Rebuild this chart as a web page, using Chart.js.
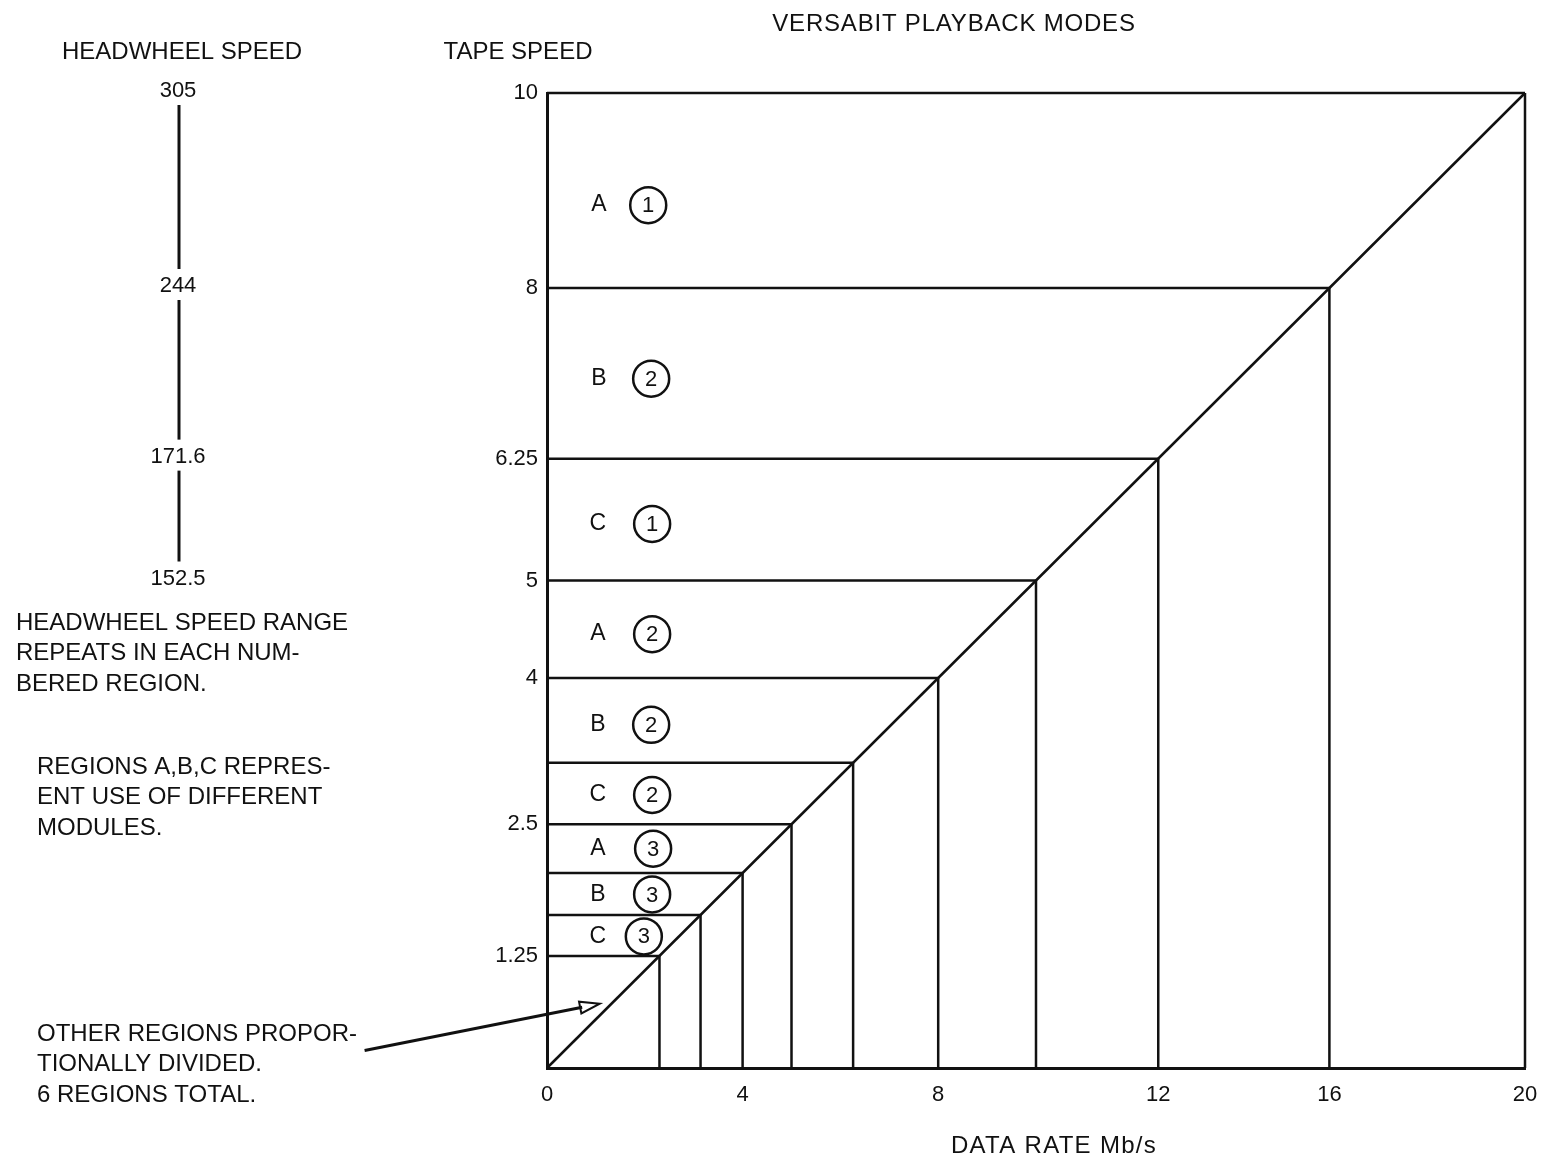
<!DOCTYPE html>
<html lang="en">
<head>
<meta charset="UTF-8">
<title>Versabit Playback Modes</title>
<script src="https://cdn.jsdelivr.net/npm/chart.js"></script>
<style>
  html, body { margin: 0; padding: 0; background: #fff; }
  #chart { display: block; }
</style>
</head>
<body>
<canvas id="chart" width="1543" height="1162"></canvas>
<script>
// tape speed at each region boundary, top to bottom
const tapeSpeedLines  = [10, 8, 6.25, 5, 4, 3.13, 2.5, 2, 1.57, 1.15];
const tapeSpeedLabels = ['10', '8', '6.25', '5', '4', '', '2.5', '', '', '1.25'];

// diagonal: data rate vs tape speed
const diagonalX = [0, 20];
const diagonalY = [0, 10];

const dataRateTicks  = [0, 4, 8, 12.5, 16, 20];
const dataRateLabels = ['0', '4', '8', '12', '16', '20'];

// headwheel speed scale, lined up with tape speed
const headwheelAt     = [10, 8, 6.25, 5];
const headwheelLabels = ['305', '244', '171.6', '152.5'];

// region labels
const regionLetters = ['A', 'B', 'C', 'A', 'B', 'C', 'A', 'B', 'C'];
const regionNumbers = ['1', '2', '1', '2', '2', '2', '3', '3', '3'];
const regionY       = [8.85, 7.07, 5.58, 4.45, 3.52, 2.80, 2.25, 1.78, 1.35];
const letterX       = [1.06, 1.06, 1.04, 1.04, 1.04, 1.04, 1.04, 1.04, 1.04];
const circleX       = [2.07, 2.13, 2.15, 2.15, 2.13, 2.15, 2.17, 2.15, 1.98];

const notes = [
  { x: 16, y: 623, lines: ['HEADWHEEL SPEED RANGE', 'REPEATS IN EACH NUM-', 'BERED REGION.'] },
  { x: 37, y: 767, lines: ['REGIONS A,B,C REPRES-', 'ENT USE OF DIFFERENT', 'MODULES.'] },
  { x: 37, y: 1034, lines: ['OTHER REGIONS PROPOR-', 'TIONALLY DIVIDED.', '6 REGIONS TOTAL.'] }
];

const ink = '#111';
const font = '"Liberation Sans", Arial, sans-serif';

// horizontal boundary runs from the axis to the diagonal, vertical drops from there to 0
const slope = diagonalX[1] / diagonalY[1];
const hPts = [];
const vPts = [];
tapeSpeedLines.forEach(b => {
  hPts.push({ x: 0, y: b }, { x: b * slope, y: b }, { x: null, y: null });
  vPts.push({ x: b * slope, y: b }, { x: b * slope, y: 0 }, { x: null, y: null });
});

const lineDs = (data, w) => ({
  data, showLine: true, spanGaps: false, borderColor: ink, borderWidth: w,
  pointRadius: 0, fill: false, clip: 4
});

const overlay = {
  id: 'overlay',
  afterDraw(chart) {
    const { ctx, scales: { x, y } } = chart;
    ctx.save();
    ctx.fillStyle = ink;
    ctx.strokeStyle = ink;
    ctx.textBaseline = 'middle';

    ctx.font = '24px ' + font;
    ctx.textAlign = 'center';
    ctx.letterSpacing = '0.8px';
    ctx.fillText('VERSABIT PLAYBACK MODES', 954, 24);
    ctx.letterSpacing = '1.3px';
    ctx.fillText('DATA RATE Mb/s', 1054, 1146);
    ctx.letterSpacing = '0px';
    ctx.fillText('HEADWHEEL SPEED', 182, 52);
    ctx.fillText('TAPE SPEED', 518, 52);

    ctx.textAlign = 'left';
    notes.forEach(n => n.lines.forEach((t, i) => ctx.fillText(t, n.x, n.y + i * 30.5)));

    // headwheel scale
    ctx.font = '22px ' + font;
    ctx.textAlign = 'center';
    const hy = headwheelAt.map(v => y.getPixelForValue(v) - 2);
    hy.forEach((py, i) => ctx.fillText(headwheelLabels[i], 178, py));
    ctx.lineWidth = 3;
    for (let i = 0; i < hy.length - 1; i++) {
      ctx.beginPath();
      ctx.moveTo(179, hy[i] + 14);
      ctx.lineTo(179, hy[i + 1] - 17);
      ctx.stroke();
    }

    // region letters and circled numbers
    regionLetters.forEach((l, i) => {
      ctx.font = '23px ' + font;
      ctx.fillText(l, x.getPixelForValue(letterX[i]), y.getPixelForValue(regionY[i]));
      ctx.font = '22px ' + font;
      ctx.fillText(regionNumbers[i], x.getPixelForValue(circleX[i]), y.getPixelForValue(regionY[i]) + 1);
    });

    // pointer arrow
    const x0 = x.getPixelForValue(-3.73), y0 = y.getPixelForValue(0.18);
    const x1 = x.getPixelForValue(1.08), y1 = y.getPixelForValue(0.66);
    const ang = Math.atan2(y1 - y0, x1 - x0);
    ctx.lineWidth = 3;
    ctx.beginPath();
    ctx.moveTo(x0, y0);
    ctx.lineTo(x1 - 18 * Math.cos(ang), y1 - 18 * Math.sin(ang));
    ctx.stroke();
    ctx.lineWidth = 2;
    ctx.beginPath();
    ctx.moveTo(x1, y1);
    ctx.lineTo(x1 - 20 * Math.cos(ang) + 6 * Math.sin(ang), y1 - 20 * Math.sin(ang) - 6 * Math.cos(ang));
    ctx.lineTo(x1 - 20 * Math.cos(ang) - 6 * Math.sin(ang), y1 - 20 * Math.sin(ang) + 6 * Math.cos(ang));
    ctx.closePath();
    ctx.stroke();
    ctx.restore();
  }
};

new Chart(document.getElementById('chart'), {
  type: 'scatter',
  data: {
    datasets: [
      lineDs(diagonalX.map((v, i) => ({ x: v, y: diagonalY[i] })), 2.5),
      lineDs(hPts, 2.5),
      lineDs(vPts, 2.5),
      {
        data: circleX.map((v, i) => ({ x: v, y: regionY[i] })),
        showLine: false,
        pointRadius: 18,
        pointBackgroundColor: '#fff',
        pointBorderColor: ink,
        pointBorderWidth: 2.5
      }
    ]
  },
  plugins: [overlay],
  options: {
    responsive: false,
    animation: false,
    events: [],
    layout: { autoPadding: false, padding: { left: 477, top: 93, right: 18, bottom: 44 } },
    plugins: { legend: { display: false }, tooltip: { enabled: false } },
    scales: {
      x: {
        type: 'linear', min: 0, max: 20,
        afterBuildTicks: s => { s.ticks = dataRateTicks.map(v => ({ value: v })); },
        afterFit: s => { s.height = 50; s.paddingLeft = 0; s.paddingRight = 0; },
        grid: { display: false, drawTicks: false },
        border: { display: true, color: ink, width: 3 },
        ticks: {
          autoSkip: false, maxRotation: 0, padding: 14, color: ink,
          font: { family: font, size: 22 },
          callback: (v, i) => dataRateLabels[i]
        }
      },
      y: {
        type: 'linear', min: 0, max: 10,
        afterBuildTicks: s => {
          s.ticks = tapeSpeedLines.filter((v, i) => tapeSpeedLabels[i]).map(v => ({ value: v }));
        },
        afterFit: s => { s.width = 70; s.paddingTop = 0; s.paddingBottom = 0; },
        grid: { display: false, drawTicks: false },
        border: { display: true, color: ink, width: 3 },
        ticks: {
          autoSkip: false, padding: 9, color: ink,
          font: { family: font, size: 22 },
          callback: v => tapeSpeedLabels[tapeSpeedLines.indexOf(v)]
        }
      }
    }
  }
});
</script>
</body>
</html>
